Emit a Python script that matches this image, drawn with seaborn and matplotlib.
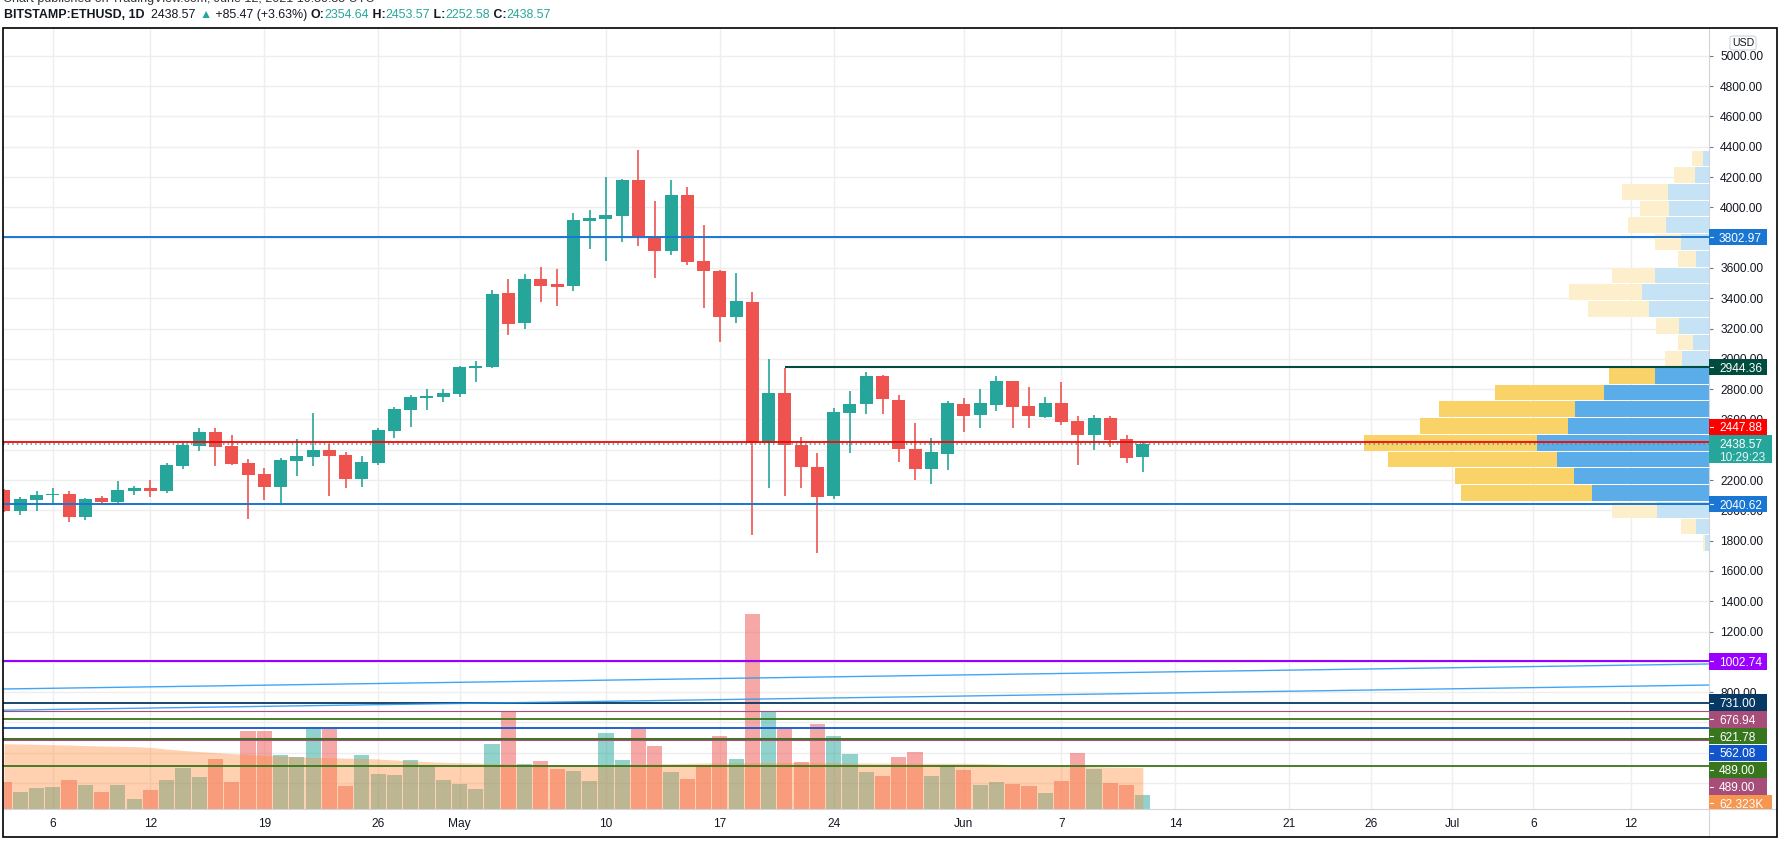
import numpy as np
import pandas as pd
import matplotlib
matplotlib.use("Agg")
import matplotlib.pyplot as plt
import matplotlib.dates as mdates
from matplotlib.patches import Rectangle, FancyBboxPatch
from matplotlib.lines import Line2D
from matplotlib.transforms import Bbox
from matplotlib.offsetbox import TextArea, HPacker, AnchoredOffsetbox
import seaborn as sns

sns.set_theme(style="white")
plt.rcParams["font.family"] = ["Liberation Sans", "DejaVu Sans"]

# ---------------- data ----------------
dates = pd.date_range("2021-04-03", "2021-06-12", freq="D")

opens = [2134, 1997, 2069, 2102, 2107, 1958, 2081, 2055, 2127, 2147,
         2127, 2293, 2426, 2517, 2426, 2312, 2239, 2154, 2325, 2352,
         2398, 2365, 2207, 2312, 2524, 2662, 2741, 2748, 2768, 2939,
         2946, 3435, 3237, 3527, 3494, 3481, 3910, 3924, 3943, 4180,
         3804, 3712, 4081, 3646, 3580, 3276, 3375, 2445, 2775, 2432,
         2289, 2097, 2642, 2701, 2886, 2729, 2405, 2273, 2372, 2701,
         2631, 2697, 2853, 2688, 2618, 2708, 2589, 2499, 2609, 2471, 2354.64]
highs = [2140, 2086, 2127, 2146, 2127, 2082, 2094, 2193, 2160, 2200,
         2312, 2444, 2543, 2543, 2497, 2339, 2280, 2345, 2471, 2643,
         2438, 2385, 2358, 2543, 2682, 2761, 2801, 2801, 2953, 2986,
         3454, 3527, 3560, 3606, 3593, 3962, 3981, 4200, 4187, 4378,
         4041, 4180, 4134, 3883, 3586, 3566, 3441, 3000, 2941, 2483,
         2378, 2675, 2787, 2913, 2893, 2761, 2576, 2477, 2722, 2741,
         2801, 2886, 2853, 2814, 2748, 2847, 2622, 2629, 2620, 2499, 2453.57]
lows = [1990, 1971, 1997, 2040, 1925, 1938, 2042, 2049, 2101, 2088,
        2115, 2273, 2392, 2293, 2300, 1940, 2069, 2049, 2226, 2293,
        2095, 2147, 2154, 2299, 2477, 2550, 2662, 2715, 2749, 2847,
        2940, 3157, 3197, 3375, 3349, 3448, 3724, 3645, 3771, 3745,
        3533, 3685, 3619, 3335, 3111, 3236, 1837, 2146, 2093, 2146,
        1718, 2073, 2378, 2636, 2636, 2319, 2200, 2174, 2266, 2519,
        2545, 2658, 2545, 2545, 2611, 2565, 2301, 2400, 2420, 2314, 2252.58]
closes = [1998, 2075, 2101, 2106, 1958, 2075, 2055, 2134, 2147, 2127,
          2299, 2432, 2517, 2420, 2308, 2233, 2154, 2332, 2358, 2398,
          2358, 2207, 2319, 2530, 2669, 2748, 2754, 2774, 2946, 2952,
          3428, 3230, 3527, 3481, 3474, 3917, 3930, 3950, 4180, 3810,
          3712, 4081, 3639, 3580, 3276, 3382, 2445, 2775, 2432, 2289,
          2091, 2648, 2701, 2886, 2735, 2405, 2273, 2385, 2707, 2625,
          2708, 2853, 2684, 2625, 2708, 2585, 2499, 2609, 2466, 2347, 2438.57]

# volume, thousands of ETH
volume_k = [40.1, 25.0, 31.0, 32.5, 43.1, 35.6, 25.0, 35.6, 14.4, 28.0,
            43.1, 61.7, 47.7, 74.9, 40.1, 117.3, 117.3, 80.9, 77.9, 120.3,
            120.3, 34.0, 80.9, 52.2, 50.7, 73.4, 62.8, 43.1, 37.1, 29.5,
            97.6, 147.1, 67.3, 71.9, 59.8, 56.7, 41.6, 114.2, 73.4, 119.8,
            94.6, 55.2, 44.6, 65.8, 109.7, 74.9, 294.3, 146.0, 119.8, 70.4,
            127.8, 109.7, 82.5, 55.2, 49.2, 77.9, 85.5, 49.2, 65.8, 58.3,
            35.6, 40.1, 37.1, 34.0, 23.5, 41.6, 84.0, 59.8, 38.6, 35.6, 20.4]
volume_ma_k = [98.0, 97.6, 97.1, 96.5, 96.1, 95.3, 94.6, 94.1, 93.5, 92.6,
               90.0, 87.8, 86.2, 84.7, 82.9, 81.7, 80.5, 79.4, 78.4, 77.5,
               76.9, 76.1, 75.7, 74.9, 73.4, 71.9, 70.8, 69.9, 69.3, 68.8,
               68.1, 67.5, 66.9, 66.3, 66.0, 65.8, 65.8, 66.3, 66.6, 67.0,
               67.5, 67.9, 68.4, 68.7, 69.0, 69.3, 69.6, 69.6, 69.6, 69.6,
               69.4, 69.3, 69.0, 68.8, 68.7, 68.5, 68.4, 68.4, 68.4, 68.4,
               68.1, 67.3, 66.3, 65.4, 64.8, 64.2, 63.5, 63.2, 62.8, 62.5, 62.323]

# volume profile (visible range), rows from top price down
vp_top, vp_bottom = 4378, 1728
vp_up = [6.3, 14, 41, 40, 43, 28, 13, 54, 67, 60, 30, 16, 27, 54,
         105, 134, 141, 172, 152, 135, 117, 52, 13, 4]
vp_down = [10.7, 21, 46, 29, 38, 26, 18, 43, 73, 61, 23, 15, 17, 46,
           109, 136, 148, 173, 169, 119, 131, 45, 15, 2]
value_area = (2040.62, 2944.36)

# horizontal levels
level_prices = [3802.97, 2040.62, 2447.88, 1002.74, 731.00, 676.94, 621.78, 562.08, 489.00, 489.00, 310.0]
level_colors = ["#1976d2", "#1976d2", "#ff0000", "#9900ff", "#073763", "#a64d79",
                "#38761d", "#1155cc", "#a64d79", "#38761d", "#38761d"]
level_widths = [1.4, 1.4, 1.3, 1.5, 1.3, 0.8, 1.3, 1.3, 2.2, 1.2, 1.3]
ray_price, ray_start, ray_color = 2944.36, "2021-05-21", "#004d40"
last_price, countdown = 2438.57, "10:29:23"

trend_dates = ["2021-04-02", "2021-07-17"]
trend_upper = [819, 986]
trend_lower = [679, 847]

tick_dates = ["2021-04-06", "2021-04-12", "2021-04-19", "2021-04-26", "2021-05-01",
              "2021-05-10", "2021-05-17", "2021-05-24", "2021-06-01", "2021-06-07",
              "2021-06-14", "2021-06-21", "2021-06-26", "2021-07-01", "2021-07-06", "2021-07-12"]
tick_labels = ["6", "12", "19", "26", "May", "10", "17", "24", "Jun", "7", "14", "21",
               "26", "Jul", "6", "12"]
# price-axis ticks that are not fully hidden behind the level tags
price_ticks = [800, 1200, 1400, 1600, 1800, 2000, 2200, 2600, 2800, 3000, 3200,
               3400, 3600, 4000, 4200, 4400, 4600, 4800, 5000]

UP, DOWN = "#26a69a", "#ef5350"
GRID = "#eeeeee"
TXT = "#131722"

# ---------------- layout ----------------
W, H = 1784, 850
fig = plt.figure(figsize=(W / 100, H / 100), dpi=100, facecolor="white")


def fx(x):
    return x / W


def fy(y):
    return 1 - y / H


L, T, R, B = 3, 28, 1709, 808.5
rect = [fx(L), fy(B), fx(R - L), (B - T) / H]

x = mdates.date2num(dates)
ref = mdates.date2num(pd.Timestamp("2021-04-06"))
xlim = (ref - 3.06, ref + 101.8)
ylim = (31.7, 5183.5)

# background grid axes
axg = fig.add_axes(rect)
axg.set_xlim(xlim)
axg.set_ylim(ylim)
for t in mdates.date2num(pd.to_datetime(tick_dates)):
    axg.axvline(t, color=GRID, lw=1)
for p in range(200, 5001, 200):
    axg.axhline(p, color=GRID, lw=1)
axg.set_axis_off()

# main price axes + volume twin
ax = fig.add_axes(rect)
axv = ax.twinx()
ax.set_zorder(3)
axv.set_zorder(2)
axg.set_zorder(1)
ax.patch.set_visible(False)
axv.patch.set_visible(False)

up = np.array(closes) >= np.array(opens)
vdf = pd.DataFrame({"x": x, "vol": volume_k, "dir": np.where(up, "up", "down")})
sns.barplot(data=vdf, x="x", y="vol", hue="dir", palette={"up": UP, "down": DOWN},
            native_scale=True, dodge=False, width=0.93, errorbar=None, saturation=1,
            alpha=0.5, legend=False, linewidth=0, ax=axv)
axv.fill_between(x, 0, volume_ma_k, color=(1.0, 0.55, 0.235), alpha=0.4, lw=0, zorder=5)
axv.set_ylim(0, (B - T) * 1.513)
axv.set_yticks([])
axv.set_xlabel("")
axv.set_ylabel("")

# volume profile
o = np.array(opens, float)
c = np.array(closes, float)
nrows = len(vp_up)
step = (vp_top - vp_bottom) / nrows
centers = vp_top - step * (np.arange(nrows) + 0.5)
px_per_day = (R - L) / (xlim[1] - xlim[0])
vu = np.array(vp_up) / px_per_day
vd = np.array(vp_down) / px_per_day
in_va = (centers >= value_area[0]) & (centers <= value_area[1])
blue = np.where(in_va, "#5badea", "#c6e2f5")
yell = np.where(in_va, "#f9d367", "#fdefcc")
ax.barh(centers, -vu, left=xlim[1], height=step * 0.94, color=blue, lw=0, zorder=1)
ax.barh(centers, -vd, left=xlim[1] - vu, height=step * 0.94, color=yell, lw=0, zorder=1)

# candles
cols = np.where(up, UP, DOWN)
ax.vlines(x, lows, highs, colors=cols, lw=1.2, zorder=4)
ax.bar(x, np.maximum(np.abs(c - o), 6), bottom=np.minimum(o, c), width=0.8,
       color=cols, lw=0, zorder=5)

# lines
for p, col, lw in zip(level_prices, level_colors, level_widths):
    ax.axhline(p, color=col, lw=lw, zorder=6)
ax.hlines(ray_price, mdates.date2num(pd.Timestamp(ray_start)), xlim[1], color=ray_color, lw=1.5, zorder=6)
ax.axhline(last_price, color=UP, lw=1.1, ls=(0, (1, 2)), zorder=6)
td = mdates.date2num(pd.to_datetime(trend_dates))
ax.plot(td, trend_upper, color="#2196f3", lw=1.0, alpha=0.85, zorder=6)
ax.plot(td, trend_lower, color="#2196f3", lw=1.0, alpha=0.85, zorder=6)

ax.set_xlim(xlim)
ax.set_ylim(ylim)
for s in list(ax.spines.values()) + list(axv.spines.values()):
    s.set_visible(False)

ax.set_xticks(mdates.date2num(pd.to_datetime(tick_dates)))
ax.set_xticklabels(tick_labels)
ax.yaxis.tick_right()
ax.set_yticks(price_ticks)
ax.set_yticklabels([f"{v:.2f}" for v in price_ticks])
ax.tick_params(axis="x", length=3, width=0.8, color="#b2b5be", pad=3.5, labelsize=8.6, labelcolor=TXT)
ax.tick_params(axis="y", length=3, width=0.8, color="#787b86", pad=5, labelsize=8.6, labelcolor=TXT)
ax.set_xlabel("")
ax.set_ylabel("")

# ---------------- price-axis labels ----------------
pane_clip = Bbox([[R, H - B], [1777, H - T]])


def ypx(p, a=ax):
    return H - a.transData.transform((xlim[0], p))[1]


def tag(yc, text, color, w=58, h=16.5, z=20):
    r = Rectangle((fx(R), fy(yc + h / 2)), fx(w), h / H, transform=fig.transFigure,
                  facecolor=color, edgecolor="none", zorder=z)
    r.set_clip_box(pane_clip)
    fig.add_artist(r)
    fig.add_artist(Line2D([fx(R + 1), fx(R + 4)], [fy(yc), fy(yc)], color="white", lw=0.8, zorder=z + 1))
    t = fig.text(fx(R + 10), fy(yc), text, color="white", fontsize=8.6, ha="left", va="center_baseline", zorder=z + 1)
    t.set_clip_box(pane_clip)
    t.set_clip_on(True)


tag(ypx(3802.97), "3802.97", "#1976d2")
tag(ypx(ray_price), f"{ray_price:.2f}", ray_color)

yl = ypx(last_price)
box_top = yl - 8.5
fig.add_artist(Rectangle((fx(R), fy(box_top + 28)), fx(63), 28 / H, transform=fig.transFigure,
                         facecolor=UP, edgecolor="none", zorder=20))
fig.text(fx(R + 10), fy(yl), f"{last_price:.2f}", color="white", fontsize=8.6, ha="left", va="center_baseline", zorder=21)
fig.text(fx(R + 10), fy(yl + 13), countdown, color="#e8f5f3", fontsize=8.6, ha="left", va="center_baseline", zorder=21)
tag(min(ypx(2447.88), box_top - 8.5), "2447.88", "#ff0000")

lower = [(2040.62, "#1976d2"), (1002.74, "#9900ff"), (731.00, "#073763"), (676.94, "#a64d79"),
         (621.78, "#38761d"), (562.08, "#1155cc"), (489.00, "#38761d"), (489.00, "#a64d79")]
prev = -1e9
for val, col in lower:
    yc = max(ypx(val), prev + 16.8)
    tag(yc, f"{val:.2f}", col)
    prev = yc
yc = max(ypx(volume_ma_k[-1], axv), prev + 16.8)
tag(yc, f"{volume_ma_k[-1]:.3f}K", "#f7964f", w=63)

# USD box
fig.add_artist(FancyBboxPatch((fx(1730), fy(50)), fx(26), 14 / H, boxstyle="round,pad=0,rounding_size=0.002",
                              transform=fig.transFigure, facecolor="white", edgecolor="#d1d4dc", lw=0.8, zorder=22))
fig.text(fx(1743), fy(43), "USD", fontsize=7.6, ha="center", va="center", color=TXT, zorder=23)

# frame and separators
fig.add_artist(Line2D([fx(L), fx(1777)], [fy(B), fy(B)], color="#d1d4dc", lw=0.8, zorder=15))
fig.add_artist(Line2D([fx(R), fx(R)], [fy(T), fy(837)], color="#d1d4dc", lw=0.8, zorder=15))
fig.add_artist(Rectangle((fx(L), fy(837)), fx(1777 - L), (837 - T) / H, transform=fig.transFigure,
                         facecolor="none", edgecolor="black", lw=1.2, zorder=30))

# header
fig.text(fx(3), fy(-1), "Chart published on TradingView.com, June 12, 2021 10:30:35 UTC",
         fontsize=9, color="#333333", ha="left", va="center")
parts = [("BITSTAMP:ETHUSD, 1D", "bold", TXT), ("  2438.57 ", "normal", TXT), ("\u25b2", "normal", UP),
         (" +85.47 (+3.63%) ", "normal", TXT), ("O:", "bold", TXT), ("2354.64", "normal", UP),
         (" H:", "bold", TXT), ("2453.57", "normal", UP), (" L:", "bold", TXT), ("2252.58", "normal", UP),
         (" C:", "bold", TXT), ("2438.57", "normal", UP)]
boxes = [TextArea(t, textprops=dict(fontsize=8.9, fontweight=wt, color=cl)) for t, wt, cl in parts]
hdr = AnchoredOffsetbox(loc="center left", child=HPacker(children=boxes, pad=0, sep=0, align="baseline"),
                        bbox_to_anchor=(fx(4), fy(15)), bbox_transform=fig.transFigure,
                        frameon=False, pad=0, borderpad=0)
fig.add_artist(hdr)

fig.savefig("out.png", dpi=100, facecolor="white")
